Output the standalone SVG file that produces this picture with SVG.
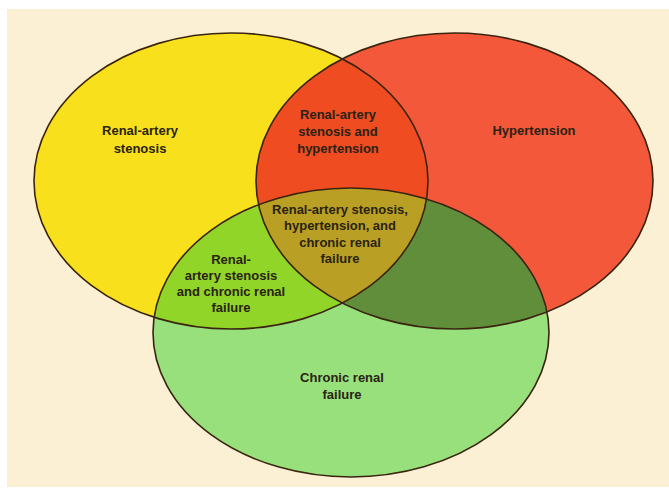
<svg xmlns="http://www.w3.org/2000/svg" width="669" height="491" viewBox="0 0 669 491">
  <defs>
    <style>
      .lbl { font-family: "Liberation Sans", Arial, sans-serif; font-size: 13px; font-weight: bold; fill: #2a2214; text-anchor: middle; }
      .edge { fill: none; stroke: #3a2410; stroke-width: 1.6; }
    </style>
    <ellipse id="eY" cx="231" cy="181" rx="197" ry="148"/>
    <ellipse id="eR" cx="454.5" cy="181" rx="198.5" ry="148"/>
    <ellipse id="eG" cx="351" cy="332.5" rx="198" ry="144.5"/>
    <clipPath id="cY"><use href="#eY"/></clipPath>
    <clipPath id="cR"><use href="#eR"/></clipPath>
    <clipPath id="cG"><use href="#eG"/></clipPath>
  </defs>

  <rect x="0" y="0" width="669" height="491" fill="#ffffff"/>
  <rect x="7" y="9" width="662" height="478" fill="#fbf0d4"/>

  <g id="stenosis">
    <use href="#eY" fill="#f8e11c"/>
  </g>
  <g id="hypertension">
    <use href="#eR" fill="#f4583a"/>
  </g>
  <g id="chronic-renal-failure">
    <use href="#eG" fill="#98e07c"/>
  </g>
  <g id="stenosis-hypertension">
    <use href="#eR" fill="#ef4c22" clip-path="url(#cY)"/>
  </g>
  <g id="stenosis-crf">
    <use href="#eG" fill="#90d528" clip-path="url(#cY)"/>
  </g>
  <g id="hypertension-crf">
    <use href="#eG" fill="#608e3a" clip-path="url(#cR)"/>
  </g>
  <g id="all-three" clip-path="url(#cY)">
    <use href="#eG" fill="#b9a024" clip-path="url(#cR)"/>
  </g>

  <g id="outlines">
    <use href="#eY" class="edge"/>
    <use href="#eR" class="edge"/>
    <use href="#eG" class="edge"/>
  </g>

  <g id="labels">
    <text class="lbl" x="140" y="135">Renal-artery</text>
    <text class="lbl" x="140" y="153">stenosis</text>

    <text class="lbl" x="534" y="135">Hypertension</text>

    <text class="lbl" x="338" y="119">Renal-artery</text>
    <text class="lbl" x="338" y="136">stenosis and</text>
    <text class="lbl" x="338" y="153">hypertension</text>

    <text class="lbl" x="340" y="214">Renal-artery stenosis,</text>
    <text class="lbl" x="340" y="230">hypertension, and</text>
    <text class="lbl" x="340" y="247">chronic renal</text>
    <text class="lbl" x="340" y="263">failure</text>

    <text class="lbl" x="231" y="264">Renal-</text>
    <text class="lbl" x="231" y="280">artery stenosis</text>
    <text class="lbl" x="231" y="296">and chronic renal</text>
    <text class="lbl" x="231" y="312">failure</text>

    <text class="lbl" x="342" y="382">Chronic renal</text>
    <text class="lbl" x="342" y="399">failure</text>
  </g>
</svg>
